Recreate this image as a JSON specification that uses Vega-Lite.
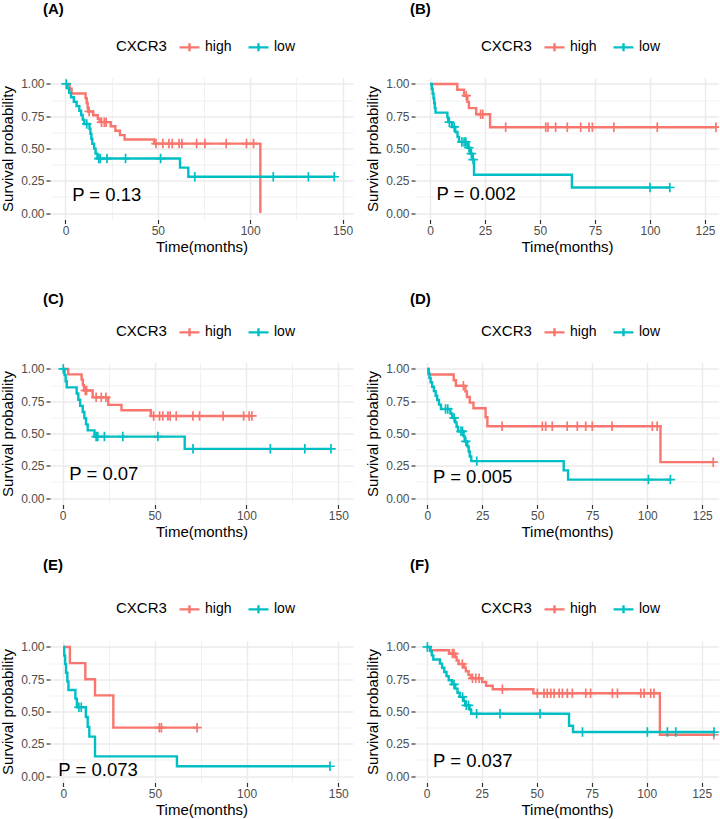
{
"$schema": "https://vega.github.io/schema/vega-lite/v6.json",
"padding": {"left": 0, "top": 1.5, "right": 0, "bottom": 0},
"background": "white",
"config": {"font": "Liberation Sans", "view": {"stroke": null},
 "axisX": {"domain": false, "grid": true, "gridColor": "#EBEBEB", "tickColor": "#333333", "tickSize": 4, "tickWidth": 1.2, "labelColor": "#4D4D4D", "labelFontSize": 12, "labelPadding": 2, "titleFontSize": 15, "titleFontWeight": "normal", "titleColor": "black", "titlePadding": 3},
 "axisY": {"domain": false, "grid": true, "gridColor": "#EBEBEB", "tickColor": "#333333", "tickSize": 4, "tickWidth": 1.2, "labelColor": "#4D4D4D", "labelFontSize": 12, "labelPadding": 2, "titleFontSize": 15, "titleFontWeight": "normal", "titleColor": "black", "titlePadding": 5},
 "legend": {"orient": "none", "legendX": 66, "legendY": -42, "direction": "horizontal", "titleOrient": "left", "titleFontSize": 15, "titleFontWeight": "normal", "titleColor": "black", "labelFontSize": 14, "labelColor": "black", "symbolType": "M-1,0H1M0,-0.4V0.4", "symbolSize": 400, "symbolStrokeWidth": 2.3, "labelOffset": 4, "columnPadding": 11, "titlePadding": 11},
 "title": {"anchor": "start", "frame": "group", "fontSize": 15, "fontWeight": "bold", "color": "black"},
 "text": {"fontSize": 18.5, "align": "left", "baseline": "middle", "color": "black"},
 "point": {"shape": "M-1,0H1M0,-1V1", "filled": false, "size": 90, "strokeWidth": 1.7, "opacity": 1},
 "line": {"interpolate": "step-after", "strokeWidth": 2.4}
},
"datasets": {
"A": [
{"group":"high","time":0,"surv":1,"cens":0},{"group":"high","time":2.2,"surv":0.963,"cens":0},{"group":"high","time":3.3,"surv":0.926,"cens":0},{"group":"high","time":10.9,"surv":0.889,"cens":0},{"group":"high","time":11.5,"surv":0.852,"cens":0},{"group":"high","time":12,"surv":0.815,"cens":0},{"group":"high","time":12.3,"surv":0.787,"cens":0},{"group":"high","time":12.8,"surv":0.787,"cens":1},{"group":"high","time":15,"surv":0.757,"cens":0},{"group":"high","time":17.5,"surv":0.73,"cens":0},{"group":"high","time":18.5,"surv":0.704,"cens":0},{"group":"high","time":19.5,"surv":0.704,"cens":1},{"group":"high","time":21,"surv":0.704,"cens":1},{"group":"high","time":22,"surv":0.704,"cens":1},{"group":"high","time":24.5,"surv":0.672,"cens":0},{"group":"high","time":27,"surv":0.638,"cens":0},{"group":"high","time":29.5,"surv":0.604,"cens":0},{"group":"high","time":32,"surv":0.57,"cens":0},{"group":"high","time":48,"surv":0.538,"cens":0},{"group":"high","time":49,"surv":0.538,"cens":1},{"group":"high","time":52.7,"surv":0.538,"cens":1},{"group":"high","time":56,"surv":0.538,"cens":1},{"group":"high","time":57.8,"surv":0.538,"cens":1},{"group":"high","time":61.5,"surv":0.538,"cens":1},{"group":"high","time":63,"surv":0.538,"cens":1},{"group":"high","time":71,"surv":0.538,"cens":1},{"group":"high","time":75.5,"surv":0.538,"cens":1},{"group":"high","time":87,"surv":0.538,"cens":1},{"group":"high","time":98,"surv":0.538,"cens":1},{"group":"high","time":101.8,"surv":0.538,"cens":1},{"group":"high","time":105.5,"surv":0,"cens":0},
{"group":"low","time":0,"surv":1,"cens":0},{"group":"low","time":0.4,"surv":1,"cens":1},{"group":"low","time":1,"surv":0.966,"cens":0},{"group":"low","time":2,"surv":0.931,"cens":0},{"group":"low","time":3,"surv":0.897,"cens":0},{"group":"low","time":4.5,"surv":0.862,"cens":0},{"group":"low","time":6,"surv":0.828,"cens":0},{"group":"low","time":7.5,"surv":0.793,"cens":0},{"group":"low","time":8.5,"surv":0.759,"cens":0},{"group":"low","time":9.3,"surv":0.724,"cens":0},{"group":"low","time":10.2,"surv":0.69,"cens":0},{"group":"low","time":11.5,"surv":0.69,"cens":1},{"group":"low","time":13,"surv":0.652,"cens":0},{"group":"low","time":13.5,"surv":0.614,"cens":0},{"group":"low","time":14,"surv":0.575,"cens":0},{"group":"low","time":14.5,"surv":0.537,"cens":0},{"group":"low","time":15.5,"surv":0.499,"cens":0},{"group":"low","time":16.3,"surv":0.46,"cens":0},{"group":"low","time":17.3,"surv":0.422,"cens":0},{"group":"low","time":18,"surv":0.422,"cens":1},{"group":"low","time":18.8,"surv":0.422,"cens":1},{"group":"low","time":22.5,"surv":0.422,"cens":1},{"group":"low","time":32.5,"surv":0.422,"cens":1},{"group":"low","time":51.5,"surv":0.422,"cens":1},{"group":"low","time":62,"surv":0.352,"cens":0},{"group":"low","time":66.5,"surv":0.281,"cens":0},{"group":"low","time":70,"surv":0.281,"cens":1},{"group":"low","time":112.5,"surv":0.281,"cens":1},{"group":"low","time":131.5,"surv":0.281,"cens":1},{"group":"low","time":145.5,"surv":0.281,"cens":1}
],
"B": [
{"group":"high","time":0,"surv":1,"cens":0},{"group":"high","time":12.4,"surv":0.955,"cens":0},{"group":"high","time":15.5,"surv":0.909,"cens":0},{"group":"high","time":16.5,"surv":0.909,"cens":1},{"group":"high","time":17,"surv":0.861,"cens":0},{"group":"high","time":17.7,"surv":0.813,"cens":0},{"group":"high","time":21,"surv":0.765,"cens":0},{"group":"high","time":23,"surv":0.765,"cens":1},{"group":"high","time":24,"surv":0.765,"cens":1},{"group":"high","time":27.3,"surv":0.665,"cens":0},{"group":"high","time":34.4,"surv":0.665,"cens":1},{"group":"high","time":52.6,"surv":0.665,"cens":1},{"group":"high","time":53.6,"surv":0.665,"cens":1},{"group":"high","time":57.1,"surv":0.665,"cens":1},{"group":"high","time":62.4,"surv":0.665,"cens":1},{"group":"high","time":68.5,"surv":0.665,"cens":1},{"group":"high","time":72.3,"surv":0.665,"cens":1},{"group":"high","time":73.8,"surv":0.665,"cens":1},{"group":"high","time":83.6,"surv":0.665,"cens":1},{"group":"high","time":103.3,"surv":0.665,"cens":1},{"group":"high","time":130,"surv":0.665,"cens":1},
{"group":"low","time":0,"surv":1,"cens":0},{"group":"low","time":0.8,"surv":0.963,"cens":0},{"group":"low","time":1.2,"surv":0.926,"cens":0},{"group":"low","time":1.6,"surv":0.889,"cens":0},{"group":"low","time":1.9,"surv":0.852,"cens":0},{"group":"low","time":2.2,"surv":0.815,"cens":0},{"group":"low","time":2.5,"surv":0.778,"cens":0},{"group":"low","time":7.9,"surv":0.741,"cens":0},{"group":"low","time":8.3,"surv":0.704,"cens":0},{"group":"low","time":8.8,"surv":0.704,"cens":1},{"group":"low","time":10,"surv":0.667,"cens":0},{"group":"low","time":11,"surv":0.667,"cens":1},{"group":"low","time":11.5,"surv":0.628,"cens":0},{"group":"low","time":12.5,"surv":0.59,"cens":0},{"group":"low","time":13.2,"surv":0.551,"cens":0},{"group":"low","time":14.5,"surv":0.551,"cens":1},{"group":"low","time":15.5,"surv":0.551,"cens":1},{"group":"low","time":16.3,"surv":0.551,"cens":1},{"group":"low","time":17,"surv":0.506,"cens":0},{"group":"low","time":17.7,"surv":0.506,"cens":1},{"group":"low","time":18.3,"surv":0.46,"cens":0},{"group":"low","time":18.8,"surv":0.46,"cens":1},{"group":"low","time":19.3,"surv":0.414,"cens":0},{"group":"low","time":19.6,"surv":0.414,"cens":1},{"group":"low","time":20,"surv":0.297,"cens":0},{"group":"low","time":64.5,"surv":0.198,"cens":0},{"group":"low","time":100,"surv":0.198,"cens":1},{"group":"low","time":109,"surv":0.198,"cens":1}
],
"C": [
{"group":"high","time":0,"surv":1,"cens":0},{"group":"high","time":3,"surv":0.958,"cens":0},{"group":"high","time":10.3,"surv":0.917,"cens":0},{"group":"high","time":11,"surv":0.875,"cens":0},{"group":"high","time":11.6,"surv":0.833,"cens":0},{"group":"high","time":12.3,"surv":0.833,"cens":1},{"group":"high","time":13,"surv":0.833,"cens":1},{"group":"high","time":16.3,"surv":0.78,"cens":0},{"group":"high","time":18.2,"surv":0.78,"cens":1},{"group":"high","time":21,"surv":0.78,"cens":1},{"group":"high","time":23.5,"surv":0.78,"cens":1},{"group":"high","time":24.8,"surv":0.722,"cens":0},{"group":"high","time":32,"surv":0.68,"cens":0},{"group":"high","time":48,"surv":0.636,"cens":0},{"group":"high","time":49.5,"surv":0.636,"cens":1},{"group":"high","time":52.7,"surv":0.636,"cens":1},{"group":"high","time":54.5,"surv":0.636,"cens":1},{"group":"high","time":57.3,"surv":0.636,"cens":1},{"group":"high","time":58.5,"surv":0.636,"cens":1},{"group":"high","time":61.8,"surv":0.636,"cens":1},{"group":"high","time":70.9,"surv":0.636,"cens":1},{"group":"high","time":74.5,"surv":0.636,"cens":1},{"group":"high","time":87.3,"surv":0.636,"cens":1},{"group":"high","time":98.5,"surv":0.636,"cens":1},{"group":"high","time":101.5,"surv":0.636,"cens":1},{"group":"high","time":103,"surv":0.636,"cens":1},
{"group":"low","time":0,"surv":1,"cens":0},{"group":"low","time":0.3,"surv":1,"cens":1},{"group":"low","time":1,"surv":0.952,"cens":0},{"group":"low","time":1.6,"surv":0.905,"cens":0},{"group":"low","time":2.2,"surv":0.857,"cens":0},{"group":"low","time":7.6,"surv":0.81,"cens":0},{"group":"low","time":8.5,"surv":0.762,"cens":0},{"group":"low","time":9.5,"surv":0.714,"cens":0},{"group":"low","time":10.9,"surv":0.667,"cens":0},{"group":"low","time":11.8,"surv":0.619,"cens":0},{"group":"low","time":12.7,"surv":0.571,"cens":0},{"group":"low","time":13.6,"surv":0.524,"cens":0},{"group":"low","time":17.3,"surv":0.476,"cens":0},{"group":"low","time":18.2,"surv":0.476,"cens":1},{"group":"low","time":19.1,"surv":0.476,"cens":1},{"group":"low","time":22.7,"surv":0.476,"cens":1},{"group":"low","time":32.7,"surv":0.476,"cens":1},{"group":"low","time":51.8,"surv":0.476,"cens":1},{"group":"low","time":66.4,"surv":0.381,"cens":0},{"group":"low","time":70.9,"surv":0.381,"cens":1},{"group":"low","time":113,"surv":0.381,"cens":1},{"group":"low","time":131.8,"surv":0.381,"cens":1},{"group":"low","time":146,"surv":0.381,"cens":1}
],
"D": [
{"group":"high","time":0,"surv":1,"cens":0},{"group":"high","time":0.7,"surv":0.957,"cens":0},{"group":"high","time":12,"surv":0.913,"cens":0},{"group":"high","time":13,"surv":0.87,"cens":0},{"group":"high","time":16.4,"surv":0.87,"cens":1},{"group":"high","time":17.3,"surv":0.826,"cens":0},{"group":"high","time":18,"surv":0.783,"cens":0},{"group":"high","time":19.3,"surv":0.739,"cens":0},{"group":"high","time":21,"surv":0.696,"cens":0},{"group":"high","time":26.5,"surv":0.626,"cens":0},{"group":"high","time":27.3,"surv":0.556,"cens":0},{"group":"high","time":34,"surv":0.556,"cens":1},{"group":"high","time":52.3,"surv":0.556,"cens":1},{"group":"high","time":53.8,"surv":0.556,"cens":1},{"group":"high","time":56.8,"surv":0.556,"cens":1},{"group":"high","time":63.6,"surv":0.556,"cens":1},{"group":"high","time":68.2,"surv":0.556,"cens":1},{"group":"high","time":72,"surv":0.556,"cens":1},{"group":"high","time":75,"surv":0.556,"cens":1},{"group":"high","time":84,"surv":0.556,"cens":1},{"group":"high","time":102.3,"surv":0.556,"cens":1},{"group":"high","time":104.5,"surv":0.556,"cens":1},{"group":"high","time":106,"surv":0.278,"cens":0},{"group":"high","time":130,"surv":0.278,"cens":1},
{"group":"low","time":0,"surv":1,"cens":0},{"group":"low","time":0.5,"surv":0.966,"cens":0},{"group":"low","time":1,"surv":0.931,"cens":0},{"group":"low","time":1.5,"surv":0.897,"cens":0},{"group":"low","time":2.2,"surv":0.862,"cens":0},{"group":"low","time":3,"surv":0.828,"cens":0},{"group":"low","time":3.8,"surv":0.793,"cens":0},{"group":"low","time":4.5,"surv":0.759,"cens":0},{"group":"low","time":5.3,"surv":0.724,"cens":0},{"group":"low","time":6.2,"surv":0.69,"cens":0},{"group":"low","time":8.3,"surv":0.69,"cens":1},{"group":"low","time":9.3,"surv":0.69,"cens":1},{"group":"low","time":10.5,"surv":0.655,"cens":0},{"group":"low","time":11.3,"surv":0.621,"cens":0},{"group":"low","time":12.2,"surv":0.621,"cens":1},{"group":"low","time":12.7,"surv":0.586,"cens":0},{"group":"low","time":13.3,"surv":0.552,"cens":0},{"group":"low","time":14,"surv":0.517,"cens":0},{"group":"low","time":15.3,"surv":0.517,"cens":1},{"group":"low","time":16,"surv":0.517,"cens":1},{"group":"low","time":16.5,"surv":0.478,"cens":0},{"group":"low","time":17,"surv":0.439,"cens":0},{"group":"low","time":17.5,"surv":0.439,"cens":1},{"group":"low","time":18.2,"surv":0.4,"cens":0},{"group":"low","time":18.8,"surv":0.361,"cens":0},{"group":"low","time":19.3,"surv":0.322,"cens":0},{"group":"low","time":20,"surv":0.286,"cens":0},{"group":"low","time":22.5,"surv":0.286,"cens":1},{"group":"low","time":62,"surv":0.214,"cens":0},{"group":"low","time":64,"surv":0.143,"cens":0},{"group":"low","time":100.5,"surv":0.143,"cens":1},{"group":"low","time":110.5,"surv":0.143,"cens":1}
],
"E": [
{"group":"high","time":0,"surv":1,"cens":0},{"group":"high","time":3.6,"surv":0.875,"cens":0},{"group":"high","time":12,"surv":0.75,"cens":0},{"group":"high","time":17.3,"surv":0.625,"cens":0},{"group":"high","time":27.3,"surv":0.375,"cens":0},{"group":"high","time":52.4,"surv":0.375,"cens":1},{"group":"high","time":53.5,"surv":0.375,"cens":1},{"group":"high","time":73,"surv":0.375,"cens":1},
{"group":"low","time":0,"surv":1,"cens":0},{"group":"low","time":0.5,"surv":0.933,"cens":0},{"group":"low","time":1,"surv":0.867,"cens":0},{"group":"low","time":1.5,"surv":0.8,"cens":0},{"group":"low","time":2.2,"surv":0.733,"cens":0},{"group":"low","time":2.8,"surv":0.667,"cens":0},{"group":"low","time":6.6,"surv":0.6,"cens":0},{"group":"low","time":7.4,"surv":0.533,"cens":0},{"group":"low","time":8.5,"surv":0.533,"cens":1},{"group":"low","time":9.8,"surv":0.533,"cens":1},{"group":"low","time":12.3,"surv":0.457,"cens":0},{"group":"low","time":13.3,"surv":0.381,"cens":0},{"group":"low","time":14.2,"surv":0.305,"cens":0},{"group":"low","time":17.3,"surv":0.152,"cens":0},{"group":"low","time":62,"surv":0.076,"cens":0},{"group":"low","time":145.5,"surv":0.076,"cens":1}
],
"F": [
{"group":"high","time":0,"surv":1,"cens":0},{"group":"high","time":1.8,"surv":0.974,"cens":0},{"group":"high","time":10.2,"surv":0.949,"cens":0},{"group":"high","time":11.7,"surv":0.949,"cens":1},{"group":"high","time":12.4,"surv":0.949,"cens":1},{"group":"high","time":13,"surv":0.922,"cens":0},{"group":"high","time":13.6,"surv":0.895,"cens":0},{"group":"high","time":14.5,"surv":0.868,"cens":0},{"group":"high","time":16.2,"surv":0.868,"cens":1},{"group":"high","time":17,"surv":0.84,"cens":0},{"group":"high","time":17.8,"surv":0.812,"cens":0},{"group":"high","time":19,"surv":0.784,"cens":0},{"group":"high","time":20,"surv":0.757,"cens":0},{"group":"high","time":20.8,"surv":0.757,"cens":1},{"group":"high","time":22.3,"surv":0.757,"cens":1},{"group":"high","time":23.8,"surv":0.757,"cens":1},{"group":"high","time":25.2,"surv":0.728,"cens":0},{"group":"high","time":27,"surv":0.7,"cens":0},{"group":"high","time":30,"surv":0.672,"cens":0},{"group":"high","time":34.4,"surv":0.672,"cens":1},{"group":"high","time":48.5,"surv":0.641,"cens":0},{"group":"high","time":50.3,"surv":0.641,"cens":1},{"group":"high","time":53.3,"surv":0.641,"cens":1},{"group":"high","time":54.8,"surv":0.641,"cens":1},{"group":"high","time":56.4,"surv":0.641,"cens":1},{"group":"high","time":57.9,"surv":0.641,"cens":1},{"group":"high","time":60.2,"surv":0.641,"cens":1},{"group":"high","time":61.7,"surv":0.641,"cens":1},{"group":"high","time":63.9,"surv":0.641,"cens":1},{"group":"high","time":66.2,"surv":0.641,"cens":1},{"group":"high","time":72.3,"surv":0.641,"cens":1},{"group":"high","time":74.5,"surv":0.641,"cens":1},{"group":"high","time":84.4,"surv":0.641,"cens":1},{"group":"high","time":86.7,"surv":0.641,"cens":1},{"group":"high","time":97.3,"surv":0.641,"cens":1},{"group":"high","time":98.8,"surv":0.641,"cens":1},{"group":"high","time":101.8,"surv":0.641,"cens":1},{"group":"high","time":103.3,"surv":0.641,"cens":1},{"group":"high","time":106,"surv":0.32,"cens":0},{"group":"high","time":130.5,"surv":0.32,"cens":1},
{"group":"low","time":0,"surv":1,"cens":0},{"group":"low","time":0.3,"surv":1,"cens":1},{"group":"low","time":1.5,"surv":0.968,"cens":0},{"group":"low","time":2.3,"surv":0.935,"cens":0},{"group":"low","time":3,"surv":0.903,"cens":0},{"group":"low","time":6,"surv":0.871,"cens":0},{"group":"low","time":7,"surv":0.839,"cens":0},{"group":"low","time":8,"surv":0.806,"cens":0},{"group":"low","time":9,"surv":0.774,"cens":0},{"group":"low","time":10,"surv":0.742,"cens":0},{"group":"low","time":11.5,"surv":0.71,"cens":0},{"group":"low","time":12.4,"surv":0.71,"cens":1},{"group":"low","time":13,"surv":0.677,"cens":0},{"group":"low","time":14,"surv":0.645,"cens":0},{"group":"low","time":15,"surv":0.613,"cens":0},{"group":"low","time":16.3,"surv":0.613,"cens":1},{"group":"low","time":16.8,"surv":0.58,"cens":0},{"group":"low","time":17.5,"surv":0.548,"cens":0},{"group":"low","time":18,"surv":0.548,"cens":1},{"group":"low","time":19,"surv":0.548,"cens":1},{"group":"low","time":19.5,"surv":0.515,"cens":0},{"group":"low","time":20.2,"surv":0.483,"cens":0},{"group":"low","time":22.7,"surv":0.483,"cens":1},{"group":"low","time":33.3,"surv":0.483,"cens":1},{"group":"low","time":51.5,"surv":0.483,"cens":1},{"group":"low","time":64.7,"surv":0.39,"cens":0},{"group":"low","time":66.5,"surv":0.341,"cens":0},{"group":"low","time":70.8,"surv":0.341,"cens":1},{"group":"low","time":100.3,"surv":0.341,"cens":1},{"group":"low","time":109.4,"surv":0.341,"cens":1},{"group":"low","time":113.2,"surv":0.341,"cens":1},{"group":"low","time":130.6,"surv":0.341,"cens":1}
]
},
"spacing": 37,
"resolve": {"scale": {"color": "independent"}, "legend": {"color": "independent"}},
"vconcat": [
{
"spacing": 12,
"resolve": {"scale": {"color": "independent"}, "legend": {"color": "independent"}},
"hconcat": [
{
"width": 303, "height": 142,
"title": {"text": "(A)", "dx": -7, "offset": 18.7},
"resolve": {"axis": {"y": "independent"}},
"layer": [
{"data": {"name": "A"}, "mark": {"type": "line"},
 "encoding": {
 "x": {"field": "time", "type": "quantitative", "title": "Time(months)", "scale": {"domain": [-8.39, 155.66], "nice": false, "zero": false},
  "axis": {"values": [0,25,50,75,100,125,150], "labelOverlap": false, "labelExpr": "datum.value % 50 === 0 ? datum.label : ''", "gridWidth": {"condition": {"test": "datum.value % 50 !== 0", "value": 0.7}, "value": 1.4}, "tickOpacity": {"condition": {"test": "datum.value % 50 !== 0", "value": 0}, "value": 1}}},
 "y": {"field": "surv", "type": "quantitative", "title": "Survival probability", "scale": {"domain": [-0.05, 1.05], "nice": false, "zero": false},
  "axis": {"values": [0,0.25,0.5,0.75,1], "format": ".2f", "labelOverlap": false, "gridWidth": 1.4}},
 "color": {"field": "group", "type": "nominal", "title": "CXCR3", "scale": {"domain": ["high", "low"], "range": ["#F8766D", "#00BFC4"]}}}},
{"data": {"name": "A"}, "transform": [{"filter": "datum.cens === 1"}], "mark": {"type": "point"},
 "encoding": {"x": {"field": "time", "type": "quantitative"}, "y": {"field": "surv", "type": "quantitative", "axis": {"orient": "right", "values": [0.125,0.375,0.625,0.875], "labels": false, "ticks": false, "domain": false, "title": null, "grid": true, "gridWidth": 0.7}}, "color": {"field": "group", "type": "nominal", "title": "CXCR3"}}},
{"data": {"values": [{"label": "P = 0.13"}]}, "mark": {"type": "text"}, "encoding": {"x": {"datum": 3.6, "type": "quantitative"}, "y": {"datum": 0.139, "type": "quantitative", "axis": null}, "text": {"field": "label", "type": "nominal"}}}
]
},
{
"width": 304, "height": 142,
"title": {"text": "(B)", "dx": -5, "offset": 18.7},
"resolve": {"axis": {"y": "independent"}},
"layer": [
{"data": {"name": "B"}, "mark": {"type": "line", "clip": true},
 "encoding": {
 "x": {"field": "time", "type": "quantitative", "title": "Time(months)", "scale": {"domain": [-6.82, 131.36], "nice": false, "zero": false},
  "axis": {"values": [0,12.5,25,37.5,50,62.5,75,87.5,100,112.5,125], "labelOverlap": false, "labelExpr": "datum.value % 25 === 0 ? datum.label : ''", "gridWidth": {"condition": {"test": "datum.value % 25 !== 0", "value": 0.7}, "value": 1.4}, "tickOpacity": {"condition": {"test": "datum.value % 25 !== 0", "value": 0}, "value": 1}}},
 "y": {"field": "surv", "type": "quantitative", "title": "Survival probability", "scale": {"domain": [-0.05, 1.05], "nice": false, "zero": false},
  "axis": {"values": [0,0.25,0.5,0.75,1], "format": ".2f", "labelOverlap": false, "gridWidth": 1.4}},
 "color": {"field": "group", "type": "nominal", "title": "CXCR3", "scale": {"domain": ["high", "low"], "range": ["#F8766D", "#00BFC4"]}}}},
{"data": {"name": "B"}, "transform": [{"filter": "datum.cens === 1"}], "mark": {"type": "point", "clip": true},
 "encoding": {"x": {"field": "time", "type": "quantitative"}, "y": {"field": "surv", "type": "quantitative", "axis": {"orient": "right", "values": [0.125,0.375,0.625,0.875], "labels": false, "ticks": false, "domain": false, "title": null, "grid": true, "gridWidth": 0.7}}, "color": {"field": "group", "type": "nominal", "title": "CXCR3"}}},
{"data": {"values": [{"label": "P = 0.002"}]}, "mark": {"type": "text"}, "encoding": {"x": {"datum": 2.9, "type": "quantitative"}, "y": {"datum": 0.144, "type": "quantitative", "axis": null}, "text": {"field": "label", "type": "nominal"}}}
]
}
]
},
{
"spacing": 18,
"resolve": {"scale": {"color": "independent"}, "legend": {"color": "independent"}},
"vconcat": [
{
"spacing": 12,
"resolve": {"scale": {"color": "independent"}, "legend": {"color": "independent"}},
"hconcat": [
{
"width": 303, "height": 142,
"title": {"text": "(C)", "dx": -7, "offset": 14},
"resolve": {"axis": {"y": "independent"}},
"layer": [
{"data": {"name": "C"}, "mark": {"type": "line"},
 "encoding": {
 "x": {"field": "time", "type": "quantitative", "title": "Time(months)", "scale": {"domain": [-6.91, 158.0], "nice": false, "zero": false},
  "axis": {"values": [0,25,50,75,100,125,150], "labelOverlap": false, "labelExpr": "datum.value % 50 === 0 ? datum.label : ''", "gridWidth": {"condition": {"test": "datum.value % 50 !== 0", "value": 0.7}, "value": 1.4}, "tickOpacity": {"condition": {"test": "datum.value % 50 !== 0", "value": 0}, "value": 1}}},
 "y": {"field": "surv", "type": "quantitative", "title": "Survival probability", "scale": {"domain": [-0.05, 1.05], "nice": false, "zero": false},
  "axis": {"values": [0,0.25,0.5,0.75,1], "format": ".2f", "labelOverlap": false, "gridWidth": 1.4}},
 "color": {"field": "group", "type": "nominal", "title": "CXCR3", "scale": {"domain": ["high", "low"], "range": ["#F8766D", "#00BFC4"]}}}},
{"data": {"name": "C"}, "transform": [{"filter": "datum.cens === 1"}], "mark": {"type": "point"},
 "encoding": {"x": {"field": "time", "type": "quantitative"}, "y": {"field": "surv", "type": "quantitative", "axis": {"orient": "right", "values": [0.125,0.375,0.625,0.875], "labels": false, "ticks": false, "domain": false, "title": null, "grid": true, "gridWidth": 0.7}}, "color": {"field": "group", "type": "nominal", "title": "CXCR3"}}},
{"data": {"values": [{"label": "P = 0.07"}]}, "mark": {"type": "text"}, "encoding": {"x": {"datum": 3.6, "type": "quantitative"}, "y": {"datum": 0.19, "type": "quantitative", "axis": null}, "text": {"field": "label", "type": "nominal"}}}
]
},
{
"width": 304, "height": 142,
"title": {"text": "(D)", "dx": -5, "offset": 14},
"resolve": {"axis": {"y": "independent"}},
"layer": [
{"data": {"name": "D"}, "mark": {"type": "line", "clip": true},
 "encoding": {
 "x": {"field": "time", "type": "quantitative", "title": "Time(months)", "scale": {"domain": [-5.59, 132.6], "nice": false, "zero": false},
  "axis": {"values": [0,12.5,25,37.5,50,62.5,75,87.5,100,112.5,125], "labelOverlap": false, "labelExpr": "datum.value % 25 === 0 ? datum.label : ''", "gridWidth": {"condition": {"test": "datum.value % 25 !== 0", "value": 0.7}, "value": 1.4}, "tickOpacity": {"condition": {"test": "datum.value % 25 !== 0", "value": 0}, "value": 1}}},
 "y": {"field": "surv", "type": "quantitative", "title": "Survival probability", "scale": {"domain": [-0.05, 1.05], "nice": false, "zero": false},
  "axis": {"values": [0,0.25,0.5,0.75,1], "format": ".2f", "labelOverlap": false, "gridWidth": 1.4}},
 "color": {"field": "group", "type": "nominal", "title": "CXCR3", "scale": {"domain": ["high", "low"], "range": ["#F8766D", "#00BFC4"]}}}},
{"data": {"name": "D"}, "transform": [{"filter": "datum.cens === 1"}], "mark": {"type": "point", "clip": true},
 "encoding": {"x": {"field": "time", "type": "quantitative"}, "y": {"field": "surv", "type": "quantitative", "axis": {"orient": "right", "values": [0.125,0.375,0.625,0.875], "labels": false, "ticks": false, "domain": false, "title": null, "grid": true, "gridWidth": 0.7}}, "color": {"field": "group", "type": "nominal", "title": "CXCR3"}}},
{"data": {"values": [{"label": "P = 0.005"}]}, "mark": {"type": "text"}, "encoding": {"x": {"datum": 2.6, "type": "quantitative"}, "y": {"datum": 0.16, "type": "quantitative", "axis": null}, "text": {"field": "label", "type": "nominal"}}}
]
}
]
},
{
"spacing": 12,
"resolve": {"scale": {"color": "independent"}, "legend": {"color": "independent"}},
"hconcat": [
{
"width": 303, "height": 142,
"title": {"text": "(E)", "dx": -7, "offset": 24.5},
"resolve": {"axis": {"y": "independent"}},
"layer": [
{"data": {"name": "E"}, "mark": {"type": "line"},
 "encoding": {
 "x": {"field": "time", "type": "quantitative", "title": "Time(months)", "scale": {"domain": [-7.26, 158.05], "nice": false, "zero": false},
  "axis": {"values": [0,25,50,75,100,125,150], "labelOverlap": false, "labelExpr": "datum.value % 50 === 0 ? datum.label : ''", "gridWidth": {"condition": {"test": "datum.value % 50 !== 0", "value": 0.7}, "value": 1.4}, "tickOpacity": {"condition": {"test": "datum.value % 50 !== 0", "value": 0}, "value": 1}}},
 "y": {"field": "surv", "type": "quantitative", "title": "Survival probability", "scale": {"domain": [-0.05, 1.05], "nice": false, "zero": false},
  "axis": {"values": [0,0.25,0.5,0.75,1], "format": ".2f", "labelOverlap": false, "gridWidth": 1.4}},
 "color": {"field": "group", "type": "nominal", "title": "CXCR3", "scale": {"domain": ["high", "low"], "range": ["#F8766D", "#00BFC4"]}, "legend": {"legendY": -43}}}},
{"data": {"name": "E"}, "transform": [{"filter": "datum.cens === 1"}], "mark": {"type": "point"},
 "encoding": {"x": {"field": "time", "type": "quantitative"}, "y": {"field": "surv", "type": "quantitative", "axis": {"orient": "right", "values": [0.125,0.375,0.625,0.875], "labels": false, "ticks": false, "domain": false, "title": null, "grid": true, "gridWidth": 0.7}}, "color": {"field": "group", "type": "nominal", "title": "CXCR3", "legend": {"legendY": -43}}}},
{"data": {"values": [{"label": "P = 0.073"}]}, "mark": {"type": "text"}, "encoding": {"x": {"datum": -2.7, "type": "quantitative"}, "y": {"datum": 0.05, "type": "quantitative", "axis": null}, "text": {"field": "label", "type": "nominal"}}}
]
},
{
"width": 304, "height": 142,
"title": {"text": "(F)", "dx": -5, "offset": 24.5},
"resolve": {"axis": {"y": "independent"}},
"layer": [
{"data": {"name": "F"}, "mark": {"type": "line", "clip": true},
 "encoding": {
 "x": {"field": "time", "type": "quantitative", "title": "Time(months)", "scale": {"domain": [-5.32, 132.86], "nice": false, "zero": false},
  "axis": {"values": [0,12.5,25,37.5,50,62.5,75,87.5,100,112.5,125], "labelOverlap": false, "labelExpr": "datum.value % 25 === 0 ? datum.label : ''", "gridWidth": {"condition": {"test": "datum.value % 25 !== 0", "value": 0.7}, "value": 1.4}, "tickOpacity": {"condition": {"test": "datum.value % 25 !== 0", "value": 0}, "value": 1}}},
 "y": {"field": "surv", "type": "quantitative", "title": "Survival probability", "scale": {"domain": [-0.05, 1.05], "nice": false, "zero": false},
  "axis": {"values": [0,0.25,0.5,0.75,1], "format": ".2f", "labelOverlap": false, "gridWidth": 1.4}},
 "color": {"field": "group", "type": "nominal", "title": "CXCR3", "scale": {"domain": ["high", "low"], "range": ["#F8766D", "#00BFC4"]}, "legend": {"legendY": -43}}}},
{"data": {"name": "F"}, "transform": [{"filter": "datum.cens === 1"}], "mark": {"type": "point", "clip": true},
 "encoding": {"x": {"field": "time", "type": "quantitative"}, "y": {"field": "surv", "type": "quantitative", "axis": {"orient": "right", "values": [0.125,0.375,0.625,0.875], "labels": false, "ticks": false, "domain": false, "title": null, "grid": true, "gridWidth": 0.7}}, "color": {"field": "group", "type": "nominal", "title": "CXCR3", "legend": {"legendY": -43}}}},
{"data": {"values": [{"label": "P = 0.037"}]}, "mark": {"type": "text"}, "encoding": {"x": {"datum": 2.9, "type": "quantitative"}, "y": {"datum": 0.117, "type": "quantitative", "axis": null}, "text": {"field": "label", "type": "nominal"}}}
]
}
]
}
]
}
]
}
